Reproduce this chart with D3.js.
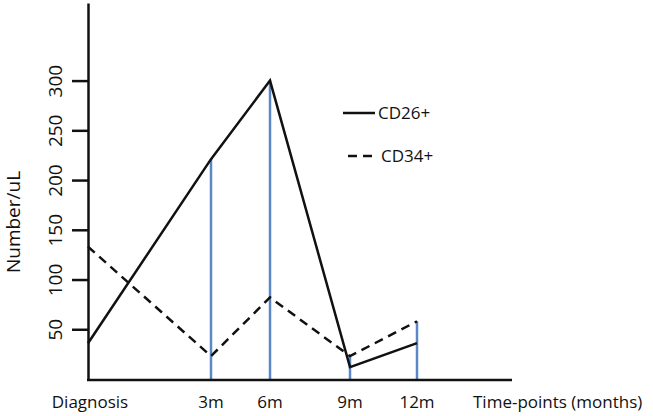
<!DOCTYPE html>
<html><head><meta charset="utf-8">
<script src="https://cdn.jsdelivr.net/npm/d3@7"></script>
<style>body{margin:0;background:#fff}svg{display:block}text{font-family:"Open Sans",sans-serif;fill:#111}</style>
</head><body>
<script>
const categories = ["Diagnosis", "3m", "6m", "9m", "12m"];
const cd26 = [36, 221, 300, 12, 36];
const cd34 = [133, 23, 82, 23, 58];
const yTicks = [50, 100, 150, 200, 250, 300];
const seriesNames = ["CD26+", "CD34+"];

const W = 653, H = 416;
const svg = d3.select("body").append("svg").attr("width", W).attr("height", H);

const x = d3.scaleOrdinal().domain(categories).range([88, 211, 270, 350, 417]);
const y = d3.scaleLinear().domain([0, 378]).range([379, 3]);

// blue vertical drop lines (skip Diagnosis)
const maxVals = categories.map((c, i) => ({c, v: Math.max(cd26[i], cd34[i])})).slice(1);
svg.selectAll("line.drop").data(maxVals).join("line").attr("class", "drop")
  .attr("x1", d => x(d.c)).attr("x2", d => x(d.c))
  .attr("y1", y(0)).attr("y2", d => y(d.v))
  .attr("stroke", "#5a87c6").attr("stroke-width", 2.5);

// axes
const yAxis = d3.axisLeft(y).tickValues(yTicks).tickSize(16).tickSizeOuter(0).tickFormat(d3.format("d"));
const gy = svg.append("g").attr("transform", `translate(88,0)`).call(yAxis);
gy.select(".domain").attr("stroke", "#111").attr("stroke-width", 2.5);
gy.selectAll(".tick line").attr("stroke", "#111").attr("stroke-width", 2.5);
gy.selectAll(".tick text").attr("x", 0).attr("y", 0)
  .attr("dy", null).attr("text-anchor", "middle")
  .attr("transform", `translate(-33,0) rotate(-90)`)
  .attr("dominant-baseline", "central")
  .style("font-size", "19px").style("font-family", '"Open Sans",sans-serif').attr("fill", "#111");

svg.append("line").attr("x1", 87).attr("x2", 512).attr("y1", 380).attr("y2", 380)
  .attr("stroke", "#111").attr("stroke-width", 2.5);

// x labels
svg.selectAll("text.xl").data(categories).join("text").attr("class", "xl")
  .attr("x", (d, i) => i === 0 ? x(d) + 2 : x(d)).attr("y", 408)
  .attr("text-anchor", "middle").style("font-size", "17px").text(d => d);
svg.append("text").attr("x", 473).attr("y", 408).style("font-size", "17px").text("Time-points (months)");

// y title
svg.append("text").attr("transform", "translate(13,222) rotate(-90)")
  .attr("text-anchor", "middle").attr("dominant-baseline", "central")
  .style("font-size", "19px").text("Number/uL");

// series
const line = d3.line().x(d => x(d.c)).y(d => y(d.v));
const s26 = categories.map((c, i) => ({c, v: cd26[i]}));
const s34 = categories.map((c, i) => ({c, v: cd34[i]}));
svg.append("path").datum(s26).attr("d", line).attr("fill", "none")
  .attr("stroke", "#111").attr("stroke-width", 2.5);
svg.append("path").datum(s34).attr("d", line).attr("fill", "none")
  .attr("stroke", "#111").attr("stroke-width", 2.5).attr("stroke-dasharray", "9,6");

// legend
const leg = svg.append("g");
leg.append("line").attr("x1", 343).attr("x2", 375).attr("y1", 113).attr("y2", 113)
  .attr("stroke", "#111").attr("stroke-width", 2.5);
leg.append("text").attr("x", 378).attr("y", 119).style("font-size", "17px").text(seriesNames[0]);
leg.append("line").attr("x1", 348).attr("x2", 375).attr("y1", 156).attr("y2", 156)
  .attr("stroke", "#111").attr("stroke-width", 2.5).attr("stroke-dasharray", "9,6");
leg.append("text").attr("x", 381).attr("y", 162).style("font-size", "17px").text(seriesNames[1]);
</script>
</body></html>
